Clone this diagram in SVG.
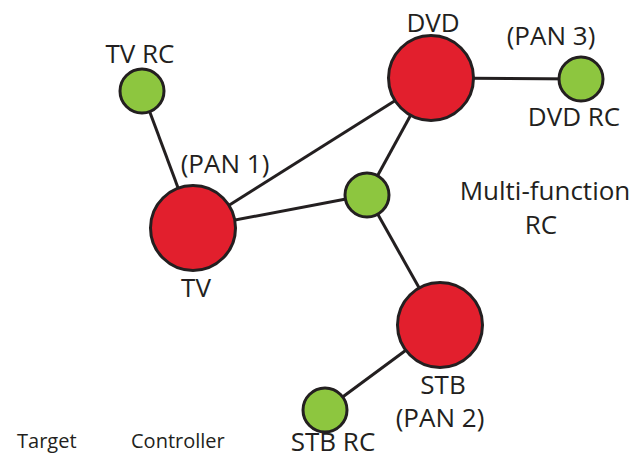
<svg xmlns="http://www.w3.org/2000/svg" width="643" height="460" viewBox="0 0 643 460">
  <style>
    .link { stroke: #231f20; stroke-width: 3; fill: none; }
    .target { fill: #e21f2d; stroke: #231f20; stroke-width: 3; }
    .ctrl { fill: #8dc63f; stroke: #231f20; stroke-width: 3; }
    text { font-family: "Open Sans", "Liberation Sans", sans-serif; font-size: 26px; fill: #231f20; text-anchor: middle; }
    .small { font-size: 20px; text-anchor: start; }
  </style>
  <rect width="643" height="460" fill="#ffffff"/>

  <!-- connectors -->
  <g id="connectors">
    <line class="link" x1="142" y1="91" x2="193" y2="228"/>
    <line class="link" x1="193" y1="228" x2="431" y2="78"/>
    <line class="link" x1="193" y1="228" x2="367" y2="195"/>
    <line class="link" x1="367" y1="195" x2="431" y2="78"/>
    <line class="link" x1="367" y1="195" x2="440" y2="325"/>
    <line class="link" x1="431" y1="78" x2="581" y2="79"/>
    <line class="link" x1="440" y1="325" x2="325" y2="410"/>
  </g>

  <!-- targets -->
  <g id="tv">
    <circle class="target" cx="193" cy="228" r="42.5"/>
    <text x="225" y="173">(PAN 1)</text>
    <text x="196" y="297">TV</text>
  </g>
  <g id="dvd">
    <circle class="target" cx="431" cy="78" r="42.5"/>
    <text x="433" y="32">DVD</text>
  </g>
  <g id="stb">
    <circle class="target" cx="440" cy="325" r="42.5"/>
    <text x="443" y="394">STB</text>
    <text x="440" y="427">(PAN 2)</text>
  </g>

  <!-- controllers -->
  <g id="tv-rc">
    <circle class="ctrl" cx="142" cy="91" r="22"/>
    <text x="140" y="63">TV RC</text>
  </g>
  <g id="dvd-rc">
    <circle class="ctrl" cx="581" cy="79" r="22"/>
    <text x="551" y="45">(PAN 3)</text>
    <text x="574" y="126">DVD RC</text>
  </g>
  <g id="multi-rc">
    <circle class="ctrl" cx="367" cy="195" r="22"/>
    <text x="545" y="200">Multi-function</text>
    <text x="541" y="234">RC</text>
  </g>
  <g id="stb-rc">
    <circle class="ctrl" cx="325" cy="410" r="22"/>
    <text x="333" y="451">STB RC</text>
  </g>

  <!-- legend -->
  <g id="legend">
    <text class="small" x="17" y="448">Target</text>
    <text class="small" x="131" y="448">Controller</text>
  </g>
</svg>
